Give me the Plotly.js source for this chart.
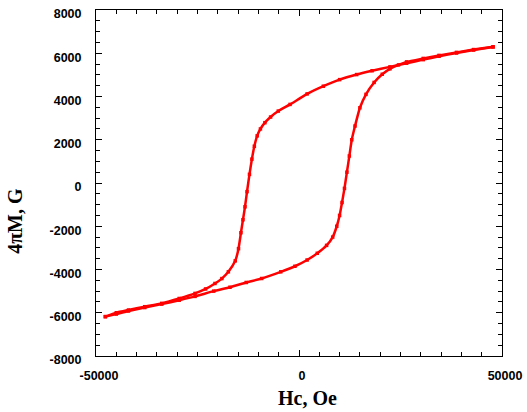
<!DOCTYPE html>
<html>
<head>
<meta charset="utf-8">
<script src="https://cdn.plot.ly/plotly-3.0.1.min.js"></script>
<style>html,body{margin:0;padding:0;background:#fff;}#chart{width:527px;height:412px;}</style>
</head>
<body>
<div id="chart"></div>
<script>
// Descending branch (from positive saturation to negative)
const descH = [47800, 43000, 38800, 34500, 30600, 26500, 22400, 18000, 14200, 10000, 6000, 2000, -2200, -5100, -7000, -8400, -9500, -10300, -11000, -11600, -12200, -12800, -13300, -13800, -14300, -14900, -15700, -17400, -19000, -20700, -23000, -25600, -29500, -33800, -38000, -42000, -45000, -47700];
const descM = [6290, 6150, 6010, 5860, 5704, 5540, 5370, 5190, 5014, 4780, 4476, 4120, 3634, 3326, 3050, 2790, 2500, 2180, 1700, 1104, 400, -400, -1100, -1700, -2300, -3036, -3600, -4108, -4420, -4646, -4900, -5106, -5340, -5566, -5720, -5874, -6000, -6180];
// Ascending branch (from negative saturation to positive)
const ascH = [-47700, -45000, -42000, -38000, -33800, -29500, -25600, -21000, -17000, -13000, -9200, -4500, -1000, 2000, 4500, 6800, 8300, 9300, 10000, 10600, 11200, 11800, 12400, 13000, 13800, 15000, 16500, 18500, 20500, 22400, 24500, 26500, 30600, 34500, 38800, 43000, 47800];
const ascM = [-6180, -6060, -5920, -5760, -5600, -5420, -5244, -5000, -4820, -4600, -4416, -4108, -3850, -3560, -3250, -2884, -2500, -2000, -1500, -900, -250, 500, 1250, 2000, 2636, 3480, 4100, 4650, 5030, 5280, 5460, 5600, 5760, 5900, 6040, 6170, 6300];

const xTickVals = [-50000, 0, 50000];
const yTickVals = [-8000, -6000, -4000, -2000, 0, 2000, 4000, 6000, 8000];
const xTitle = 'Hc, Oe';
const yTitle = '4πM, G';

const lineStyle = {color: '#ff0000', width: 2.5, shape: 'spline', smoothing: 0.5};
const markerStyle = {color: '#ff0000', size: 3.5, symbol: 'square'};

const traces = [
  {x: descH, y: descM, mode: 'lines+markers', line: lineStyle, marker: markerStyle, showlegend: false, hoverinfo: 'x+y'},
  {x: ascH, y: ascM, mode: 'lines+markers', line: lineStyle, marker: markerStyle, showlegend: false, hoverinfo: 'x+y'}
];

const tickFont = {family: 'Liberation Sans, Arial, sans-serif', size: 12.5, color: '#000', weight: 'bold'};
const titleFont = {family: 'Liberation Serif, Times New Roman, serif', size: 20, color: '#000', weight: 'bold'};

const layout = {
  width: 527, height: 412,
  margin: {l: 96, r: 25, t: 10, b: 56},
  paper_bgcolor: '#fff', plot_bgcolor: '#fff',
  showlegend: false,
  xaxis: {
    range: [-50000, 50000], tickvals: xTickVals, ticktext: xTickVals.map(String),
    ticks: 'inside', ticklen: 6, tickwidth: 1, tickcolor: '#000',
    minor: {dtick: 5000, tick0: 0, ticks: 'inside', ticklen: 4, tickcolor: '#000', showgrid: false},
    showline: true, linecolor: '#000', linewidth: 1, mirror: 'allticks',
    showgrid: false, zeroline: false, tickfont: tickFont,
    ticklabelstandoff: 8, ticklabelshift: 3
  },
  yaxis: {
    range: [-8000, 8000], tickvals: yTickVals, ticktext: yTickVals.map(String),
    ticks: 'inside', ticklen: 6, tickwidth: 1, tickcolor: '#000',
    minor: {dtick: 500, tick0: 0, ticks: 'inside', ticklen: 4, tickcolor: '#000', showgrid: false},
    showline: true, linecolor: '#000', linewidth: 1, mirror: 'allticks',
    showgrid: false, zeroline: false, tickfont: tickFont,
    ticklabelstandoff: 11, ticklabelshift: 4
  },
  annotations: [
    {text: xTitle, xref: 'paper', yref: 'paper', x: 0.522, y: -0.121, xanchor: 'center', yanchor: 'middle',
     showarrow: false, font: titleFont},
    {text: yTitle, xref: 'paper', yref: 'paper', x: -0.2, y: 0.39, xanchor: 'center', yanchor: 'middle',
     textangle: -90, showarrow: false, font: titleFont}
  ]
};

Plotly.newPlot('chart', traces, layout, {displayModeBar: false, staticPlot: true});
</script>
</body>
</html>
